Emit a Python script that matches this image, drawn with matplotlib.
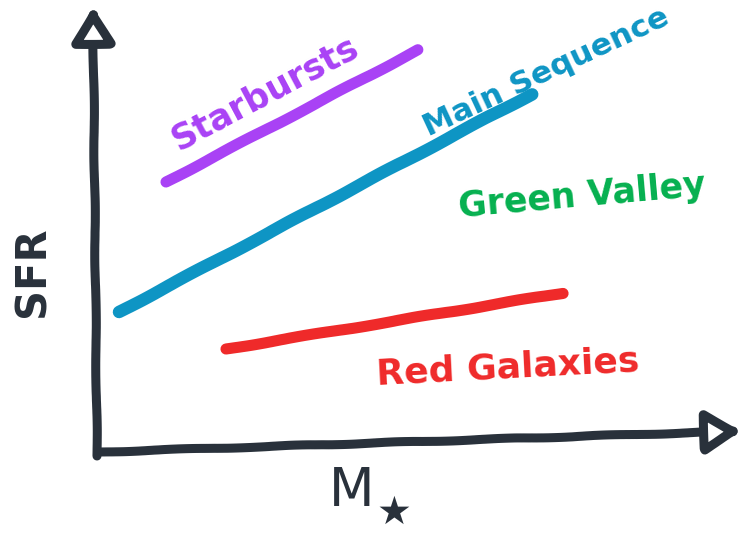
"""Hand-drawn style sketch of the star formation main sequence."""

import matplotlib.pyplot as plt
from matplotlib.patches import FancyArrowPatch

plt.rcParams["font.family"] = ["DejaVu Sans"]
plt.rcParams["path.sketch"] = (0.5, 120, 2)

# sketch coordinates (x to the right, y downwards, in canvas units)
starburst_x = [166, 418]
starburst_y = [182, 50]
main_seq_x = [119, 532]
main_seq_y = [312, 94]
red_x = [226, 563]
red_y = [349, 293]

labels = ["Starbursts", "Main Sequence", "Green Valley", "Red Galaxies"]
label_x = [270, 550, 583, 508]
label_y = [102, 80, 206, 378]
label_rot = [28, 25, 5, 3]
label_size = [25, 22.5, 25, 26]

INK = "#29313b"
PURPLE = "#a942f5"
BLUE = "#0e95c4"
GREEN = "#05b04f"
RED = "#ef2a2a"
label_colors = [PURPLE, BLUE, GREEN, RED]

fig = plt.figure(figsize=(7.45, 5.35), dpi=100)
ax = fig.add_axes([0, 0, 1, 1])
ax.set_xlim(0, 745)
ax.set_ylim(535, 0)
ax.axis("off")

# axes arrows with open heads
for start, end in [((97, 456), (93, 6)), ((99, 452), (742, 431))]:
    arrow = FancyArrowPatch(start, end, arrowstyle="-|>,head_length=1.5,head_width=0.9",
                            mutation_scale=14, lw=6.5, ec=INK, fc="white",
                            capstyle="round", joinstyle="round", shrinkA=0, shrinkB=0)
    ax.add_patch(arrow)

ax.plot(starburst_x, starburst_y, color=PURPLE, lw=8, solid_capstyle="round")
ax.plot(main_seq_x, main_seq_y, color=BLUE, lw=9, solid_capstyle="round")
ax.plot(red_x, red_y, color=RED, lw=8, solid_capstyle="round")

for text, x, y, rot, size, col in zip(labels, label_x, label_y, label_rot,
                                      label_size, label_colors):
    ax.text(x, y, text, color=col, fontsize=size, fontweight="bold", rotation=rot,
            ha="center", va="baseline", rotation_mode="anchor")

ax.text(33, 272, "SFR", color=INK, fontsize=30, fontweight="bold", rotation=90,
        ha="center", va="center")
ax.text(352, 491, "M", color=INK, fontsize=38, ha="center", va="center")
ax.text(394, 513, "\u2605", color=INK, fontsize=28, ha="center", va="center")

fig.savefig("out.png", dpi=100)
